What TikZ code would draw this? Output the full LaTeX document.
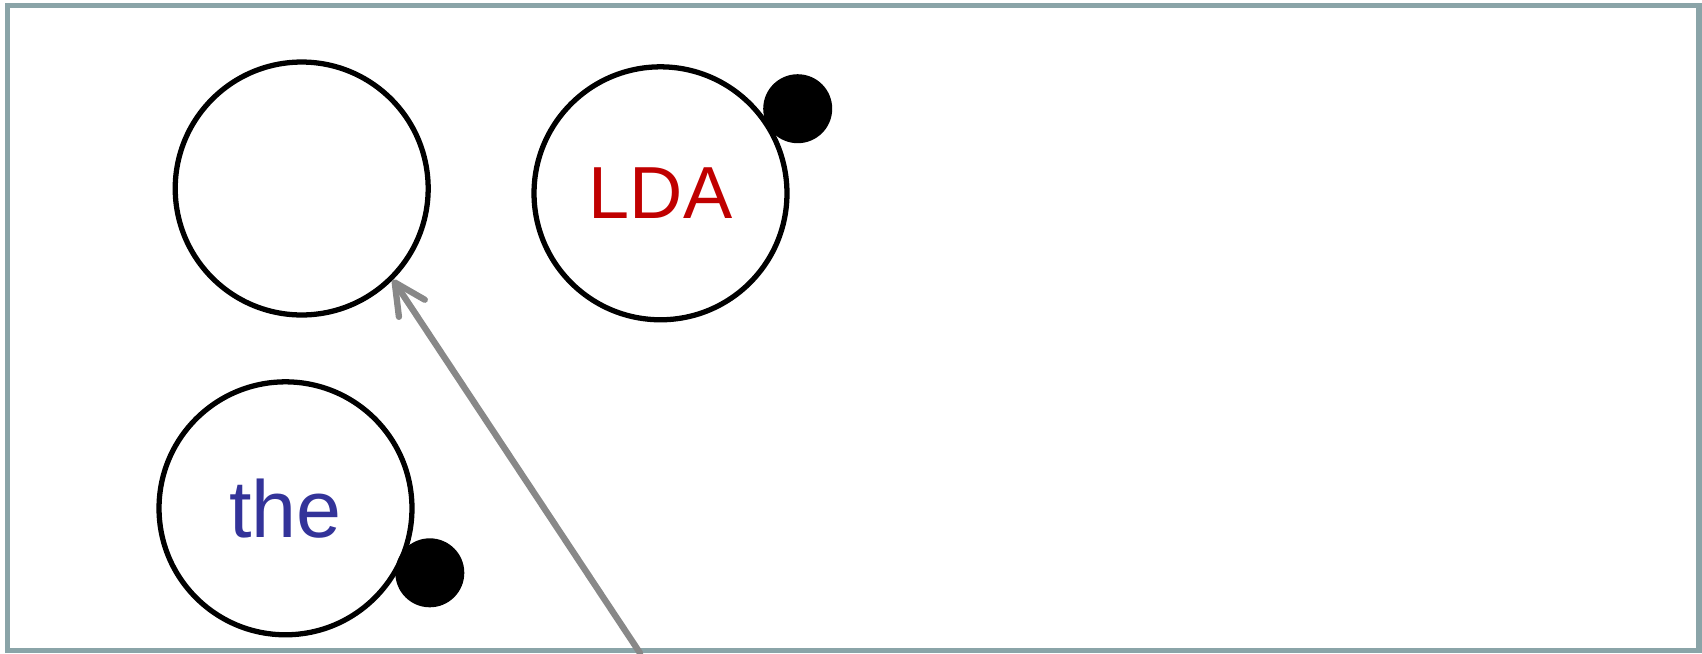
\documentclass[tikz,border=0pt]{standalone}
\usepackage{fontspec}
\setmainfont{Liberation Sans}
\usepackage{xcolor}
\usetikzlibrary{arrows.meta, positioning}

\definecolor{framegray}{RGB}{138,164,168}
\definecolor{arrgray}{RGB}{136,136,136}
\definecolor{ldared}{RGB}{192,0,0}
\definecolor{theblue}{RGB}{51,51,153}

\begin{document}
\begin{tikzpicture}[
  x=0.02cm, y=-0.02cm,
  bubble/.style={draw, circle, line width=3pt, minimum size=5.06cm,
                 inner sep=0pt},
  dot/.style={circle, fill=black, minimum size=1.38cm, inner sep=0pt},
  arr/.style={-{Straight Barb[length=0.62cm, width=0.62cm, round]},
              arrgray, line width=3.6pt, line cap=round},
]
\useasboundingbox (0,0) rectangle (1702,653);

% --- Frame ---
\draw[framegray, line width=3pt] (7.8,5.6) rectangle (1699,650.5);

% --- Bubbles ---
\node[bubble] (empty) at (301.7,188.5) {};
\node[bubble, text=ldared, font=\fontsize{42}{50}\selectfont]
  (lda) at (660.5,193.3) {LDA};
\node[bubble, text=theblue, font=\fontsize{46}{54}\selectfont]
  (the) at (285.5,508.3) {the};

% --- Dots ---
\node[dot] (ldadot) at (797.7,108.7) {};
\node[dot] (thedot) at (429.8,572.8) {};

% --- Pointer ---
\coordinate (tail) at (640,653);
\draw[arr] (tail) -- (empty.-45);

\end{tikzpicture}
\end{document}
